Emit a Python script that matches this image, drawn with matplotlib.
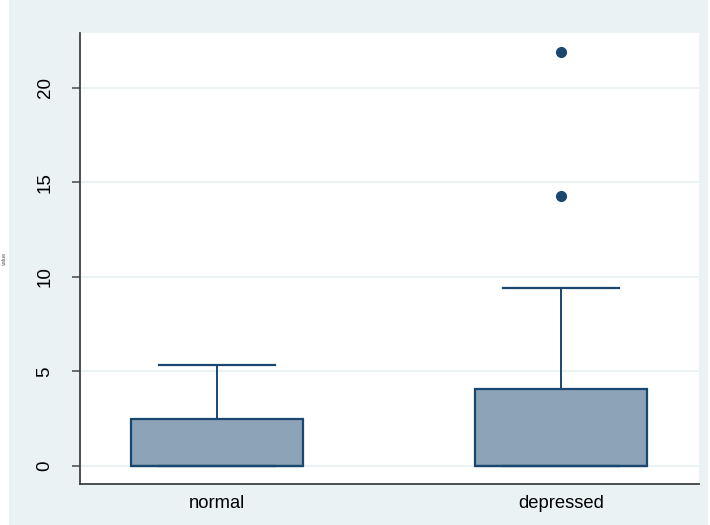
import matplotlib
matplotlib.use("Agg")
import matplotlib.pyplot as plt
from matplotlib.patches import Rectangle

plt.rcParams['font.family'] = ['Liberation Sans', 'DejaVu Sans']

categories = ["normal", "depressed"]
q1 = [0.0, 0.0]
median = [0.0, 0.0]
q3 = [2.49, 4.06]
whisker_low = [0.0, 0.0]
whisker_high = [5.35, 9.42]
outliers = [[], [14.3, 21.92]]
yticks = [0, 5, 10, 15, 20]

navy = "#1A476F"
fill = "#8DA3B7"
bg = "#EAF2F3"

fig = plt.figure(figsize=(7.1, 5.25), dpi=100, facecolor="white")
fig.patches.append(Rectangle((9/710, 0), 699/710, 1, transform=fig.transFigure,
                             facecolor=bg, edgecolor="none", zorder=-10))
ax = fig.add_axes([80/710, 1 - 484/525, 619/710, 451/525])
ax.set_facecolor("white")

stats = []
for i, c in enumerate(categories):
    stats.append(dict(label=c, med=median[i], q1=q1[i], q3=q3[i],
                      whislo=whisker_low[i], whishi=whisker_high[i],
                      fliers=outliers[i]))

ax.bxp(stats, positions=[1, 2], widths=0.5, patch_artist=True,
       showfliers=True,
       boxprops=dict(facecolor=fill, edgecolor=navy, linewidth=1.6),
       medianprops=dict(color=navy, linewidth=1.6),
       whiskerprops=dict(color=navy, linewidth=1.4),
       capprops=dict(color=navy, linewidth=1.6),
       capwidths=0.335,
       flierprops=dict(marker="o", markerfacecolor=navy, markeredgecolor=navy,
                       markersize=7, linestyle="none"))

ax.set_xlim(0.602, 2.401)
ax.set_ylim(-0.95, 22.9)
ax.set_yticks(yticks)
ax.set_yticklabels([str(t) for t in yticks], rotation=90, va="center", fontsize=13.5)
ax.grid(axis="y", color=bg, linewidth=1.5)
ax.set_axisbelow(True)
ax.tick_params(axis="y", length=6, width=1.2, color="#555555", pad=13)
ax.tick_params(axis="x", length=0, pad=8, labelsize=13.2)
for s in ["top", "right"]:
    ax.spines[s].set_visible(False)
for s in ["left", "bottom"]:
    ax.spines[s].set_color("#404040")
    ax.spines[s].set_linewidth(1.3)

fig.text(4/710, 1 - 258/525, "value", rotation=90, ha="center", va="center",
         fontsize=4, color="#555555")

fig.savefig("out.png", dpi=100, facecolor=fig.get_facecolor())
